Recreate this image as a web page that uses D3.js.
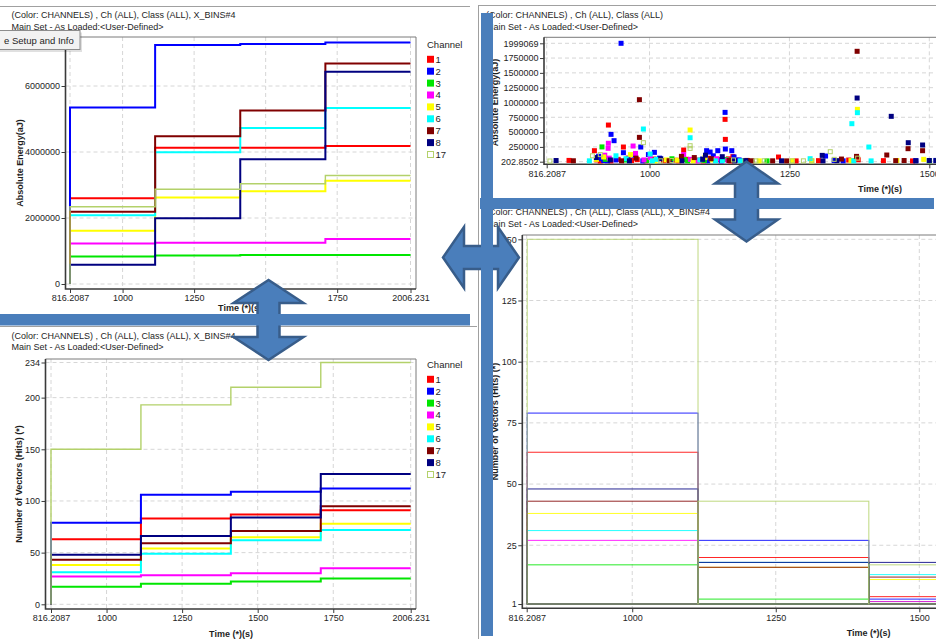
<!DOCTYPE html>
<html>
<head>
<meta charset="utf-8">
<script src="https://cdn.jsdelivr.net/npm/d3@7"></script>
<style>
  html, body { margin: 0; padding: 0; background: #fff; overflow: hidden; }
  svg { display: block; font-family: "Liberation Sans", Arial, sans-serif; }
</style>
</head>
<body>
<svg id="chart" width="936" height="639"></svg>
<script>
// ---------------- data ----------------
const channels = ["1", "2", "3", "4", "5", "6", "7", "8", "17"];
const channelColors = ["#ff0000", "#0000ff", "#00e600", "#ff00ff", "#ffff00", "#00ffff", "#800000", "#000080", "#b3d16a"];

// time bins (X_BINS#4)
const binEdges = [816.2087, 1113.7143, 1411.2198, 1708.7254, 2006.231];

// cumulative absolute energy (aJ) at the end of each bin, per channel
const cumulativeEnergy = [
  [2600000, 4130000, 4130000, 4180000],
  [5350000, 7240000, 7270000, 7320000],
  [830000, 860000, 880000, 880000],
  [1230000, 1250000, 1250000, 1360000],
  [1610000, 2620000, 2810000, 3130000],
  [2080000, 3990000, 4730000, 5330000],
  [2190000, 4480000, 5260000, 6680000],
  [580000, 1990000, 3780000, 6430000],
  [2340000, 2870000, 3040000, 3290000]
];

// hits per bin, per channel
const hitsPerBin = [
  [63, 20, 4, 4],
  [79, 27, 3, 3],
  [17, 3, 2, 3],
  [27, 1, 2, 5],
  [38, 16, 11, 13],
  [31, 18, 13, 10],
  [43, 16, 12, 24],
  [48, 18, 18, 42],
  [150, 43, 17, 24]
];

// individual events: [time (s), absolute energy (aJ)]
const eventsCh1 = [[856.1, 22000], [901.5, 186000], [905.6, 30000], [926.5, 619000], [931, 14000], [944, 40000], [953.3, 248000], [962, 62000], [968, 20000], [978, 35000], [993, 16000], [1008, 45000], [1025, 18000], [1047, 25000], [1061, 197000], [1066, 40000], [1088, 28000], [1109, 58000], [1118, 20000], [1127, 35000], [1135, 715000], [1135.5, 377000], [1141, 48000], [1149, 86000], [1156, 25000], [1174, 22000], [1230.5, 79000], [1262, 14000], [1302, 18000], [1356, 28000], [1373, 32000], [1418, 18000], [1470, 14000], [912, 12000], [1052, 15000], [1096, 14000], [1145, 14000], [1163, 16000]];
const eventsCh2 = [[949.1, 1999069], [931.2, 462000], [936.6, 355000], [953.3, 152000], [909, 92000], [914, 52000], [918, 20000], [940, 30000], [960, 40000], [972, 110000], [984.3, 248000], [998, 120000], [1008.7, 158000], [1018, 60000], [1038, 18000], [1080, 22000], [1095, 45000], [1102, 186000], [1108.3, 163000], [1114, 100000], [1122, 186000], [1135, 833000], [1135.5, 214000], [1147, 186000], [1151, 80000], [1160, 30000], [1314.6, 96000], [1330, 20000], [1346, 15000], [1476, 18000], [1512, 22000], [925, 16000], [988, 14000], [1104, 15000], [1128, 14000], [1167, 15000]];
const eventsCh3 = [[915, 250000], [921, 40000], [958, 28000], [995, 20000], [1040, 50000], [1062, 40000], [1098, 22000], [1137, 38000], [1210, 14000], [1361, 20000], [1500, 16000], [1515, 20000], [1068, 15000]];
const eventsCh4 = [[926.4, 311000], [926, 226000], [920, 110000], [970.6, 265000], [975, 140000], [1001, 70000], [1061, 120000], [928, 60000], [990, 30000], [1073, 40000], [1120, 50000], [1140, 25000], [1085, 14000]];
const eventsCh5 = [[1072.5, 535000], [1371.5, 884000], [905, 40000], [918, 80000], [966, 120000], [1030, 30000], [1050, 25000], [1099, 70000], [1112, 30000], [1170, 15000], [1196, 14000], [1255, 16000], [1290, 15000], [1360, 18000], [1442, 20000], [1490, 40000], [1010, 14000], [1078, 16000]];
const eventsCh6 = [[989, 552000], [1072.5, 405000], [1361.6, 642000], [1371.5, 828000], [1392, 248000], [1287, 51000], [892.5, 15000], [940, 100000], [958, 50000], [1001, 130000], [1012, 40000], [1090, 30000], [1130, 20000], [1162, 15000], [1365, 15000], [1396, 14000], [1005, 15000], [1118, 14000]];
const eventsCh7 = [[1371, 1864000], [981.9, 1047000], [981.9, 411000], [863.9, 16000], [976, 60000], [1057, 90000], [1080, 70000], [1110, 50000], [1175, 18000], [1183, 16000], [1220, 15000], [1245, 14000], [1343, 45000], [1370, 90000], [1424, 113000], [1440, 18000], [1455, 20000], [1462, 220000], [1488, 186000], [950, 15000], [1035, 16000], [1142, 20000]];
const eventsCh8 = [[1371, 1075000], [1432, 766000], [1462.4, 321000], [1488, 282000], [833, 20000], [905, 70000], [930, 30000], [1020, 50000], [1095, 40000], [1100, 110000], [1130, 85000], [1172, 18000], [1236, 15000], [1308.6, 107000], [1310, 15000], [1335, 18000], [1476, 15000], [1500, 20000], [1512, 18000], [964, 15000], [1058, 16000], [1152, 14000]];
const eventsCh17 = [[822, 12000], [898, 100000], [912, 120000], [989, 321000], [1072.5, 270000], [1072.5, 225000], [1323, 169000], [1330, 40000], [1190, 14000], [1205, 16000], [1255, 14000], [1275, 15000], [1290, 14000], [1372, 60000], [1020, 15000], [1040, 20000], [1150, 30000]];
const eventsByChannel = [eventsCh1, eventsCh2, eventsCh3, eventsCh4, eventsCh5, eventsCh6, eventsCh7, eventsCh8, eventsCh17];

// tick values
const energyTicks = [0, 2000000, 4000000, 6000000];
const timeTicksFull = [816.2087, 1000, 1250, 1500, 1750, 2006.231];
const hitsTicks = [0, 50, 100, 150, 200, 234];
const eventEnergyTicks = [202.8502, 250000, 500000, 750000, 1000000, 1250000, 1500000, 1750000, 1999069];
const timeTicksZoomed = [816.2087, 1000, 1250, 1500];
const binHitsTicks = [1, 25, 50, 75, 100, 125, 150];

const headerBinned = ["(Color: CHANNELS) , Ch (ALL), Class (ALL), X_BINS#4", "Main Set - As Loaded:<User-Defined>"];
const headerEvents = ["(Color: CHANNELS) , Ch (ALL), Class (ALL)", "Main Set - As Loaded:<User-Defined>"];

// ---------------- helpers ----------------
const svg = d3.select("#chart");
const TEXT = "#1e1e1e";

function cumulate(arr) { let s = 0; return arr.map(v => (s += v)); }

function frame(g, f, x, y, xTicks, yTicks) {
  // dashed grid
  const grid = g.append("g").attr("stroke", "#d6d6d6").attr("stroke-dasharray", "4,3").attr("stroke-width", 1);
  xTicks.forEach(t => grid.append("line").attr("x1", x(t)).attr("x2", x(t)).attr("y1", f.top).attr("y2", f.bottom));
  yTicks.forEach(t => grid.append("line").attr("y1", y(t)).attr("y2", y(t)).attr("x1", f.left).attr("x2", f.right));
  // frame: light top/right, dark left/bottom axes
  g.append("path").attr("d", `M${f.left},${f.top}H${f.right}V${f.bottom}`)
    .attr("fill", "none").attr("stroke", "#7a7a7a").attr("stroke-width", 1);
  g.append("path").attr("d", `M${f.left},${f.top}V${f.bottom}H${f.right}`)
    .attr("fill", "none").attr("stroke", "#3a3a3a").attr("stroke-width", 1.6);
  // axes
  const ax = g.append("g").attr("transform", `translate(0,${f.bottom})`)
    .call(d3.axisBottom(x).tickValues(xTicks).tickFormat(String).tickSize(4).tickPadding(2));
  const ay = g.append("g").attr("transform", `translate(${f.left},0)`)
    .call(d3.axisLeft(y).tickValues(yTicks).tickFormat(String).tickSize(4).tickPadding(1.5));
  [ax, ay].forEach(a => {
    a.attr("font-family", null).attr("font-size", null);
    a.select(".domain").remove();
    a.selectAll(".tick line").attr("stroke", "#3a3a3a");
    a.selectAll(".tick text").attr("fill", TEXT).style("font-size", "9px");
  });
}

function header(g, lines, x, y0) {
  lines.forEach((t, i) => g.append("text").attr("x", x).attr("y", y0 + i * 11.7)
    .attr("fill", TEXT).style("font-size", "9px").text(t));
}

function axisTitles(g, xTitle, xc, xb, yTitle, yx, yc) {
  g.append("text").attr("x", xc).attr("y", xb).attr("text-anchor", "middle")
    .attr("font-weight", "bold").attr("fill", TEXT).style("font-size", "9px").text(xTitle);
  g.append("text").attr("transform", `translate(${yx},${yc}) rotate(-90)`).attr("text-anchor", "middle")
    .attr("font-weight", "bold").attr("fill", TEXT).style("font-size", "9px").text(yTitle);
}

function legend(g, x, y) {
  g.append("text").attr("x", x).attr("y", y).attr("fill", TEXT).style("font-size", "9.5px").text("Channel");
  channels.forEach((c, i) => {
    const cy = y + 11.8 + i * 11.9;
    const hollow = c === "17";
    g.append("rect").attr("x", hollow ? x + 0.5 : x).attr("y", hollow ? cy - 3 : cy - 3.5)
      .attr("width", hollow ? 6 : 7).attr("height", hollow ? 6 : 7)
      .attr("fill", hollow ? "#fff" : channelColors[i])
      .attr("stroke", hollow ? channelColors[i] : "none").attr("stroke-width", 1);
    g.append("text").attr("x", x + 8.5).attr("y", cy + 3.4).attr("fill", TEXT)
      .style("font-size", "9.5px").text(c);
  });
}

const stepLine = d3.line().curve(d3.curveStepAfter);

function cumulativeSteps(g, rows, x, y) {
  rows.forEach((vals, i) => {
    const pts = [[binEdges[0], 0]].concat(vals.map((v, j) => [binEdges[j], v]), [[binEdges[4], vals[vals.length - 1]]]);
    g.append("path").attr("d", stepLine(pts.map(p => [x(p[0]), y(p[1])])))
      .attr("fill", "none").attr("stroke", channelColors[i])
      .attr("stroke-width", channels[i] === "17" ? 1.4 : 2);
  });
}

// ---------------- panel: cumulative energy (top left) ----------------
{
  const g = svg.append("g");
  const f = { left: 65.5, top: 37, right: 416, bottom: 289 };
  const x = d3.scaleLinear().domain([binEdges[0], binEdges[4]]).range([70, 410.5]);
  const y = d3.scaleLinear().domain([0, 7320000]).range([284, 42.44]);
  header(g, headerBinned, 11.5, 18);
  frame(g, f, x, y, timeTicksFull, energyTicks);
  cumulativeSteps(g, cumulativeEnergy, x, y);
  axisTitles(g, "Time (*)(s)", 240, 311, "Absolute Energy(aJ)", 22.5, 163);
  legend(g, 427, 47.5);
}

// ---------------- panel: cumulative hits (bottom left) ----------------
{
  const g = svg.append("g");
  const f = { left: 45.5, top: 359, right: 416, bottom: 609 };
  const x = d3.scaleLinear().domain([binEdges[0], binEdges[4]]).range([51, 410.7]);
  const y = d3.scaleLinear().domain([0, 234]).range([604.3, 362.5]);
  header(g, headerBinned, 11.5, 338.5);
  frame(g, f, x, y, timeTicksFull, hitsTicks);
  cumulativeSteps(g, hitsPerBin.map(cumulate), x, y);
  axisTitles(g, "Time (*)(s)", 231, 636.5, "Number of Vectors (Hits) (*)", 21.5, 484);
  legend(g, 427, 367.5);
}

// ---------------- panel: events (top right) ----------------
{
  const g = svg.append("g");
  const f = { left: 544, top: 37.3, right: 980, bottom: 164.3 };
  const x = d3.scaleLinear().domain([816.2087, 1500]).range([546.7, 929.3]);
  const y = d3.scaleLinear().domain([202.8502, 1999069]).range([161.7, 43.3]);
  header(g, headerEvents, 486, 18.3);
  frame(g, f, x, y, timeTicksZoomed, eventEnergyTicks);
  eventsByChannel.forEach((evs, i) => {
    const hollow = channels[i] === "17";
    g.append("g").selectAll("rect").data(evs).join("rect")
      .attr("x", d => x(d[0]) - (hollow ? 2 : 2.5))
      .attr("y", d => y(d[1]) - (hollow ? 2 : 2.5))
      .attr("width", hollow ? 4 : 5).attr("height", hollow ? 4 : 5)
      .attr("fill", hollow ? "none" : channelColors[i])
      .attr("stroke", hollow ? channelColors[i] : "none").attr("stroke-width", 1);
  });
  axisTitles(g, "Time (*)(s)", 880, 192, "Absolute Energy(aJ)", 498, 102.5);
}

// ---------------- panel: hits per bin (bottom right) ----------------
{
  const g = svg.append("g");
  const f = { left: 522.3, top: 235, right: 980, bottom: 608.3 };
  const x = d3.scaleLinear().domain([816.2087, 1500]).range([526.7, 919.3]);
  const y = d3.scaleLinear().domain([1, 150]).range([604, 239.3]);
  header(g, headerBinned, 486, 215);
  frame(g, f, x, y, timeTicksZoomed, binHitsTicks);
  hitsPerBin.forEach((vals, i) => {
    g.append("g").selectAll("rect").data(vals.map((v, j) => ({ v, j }))).join("rect")
      .attr("x", d => x(binEdges[d.j]) + 0.5)
      .attr("width", d => x(binEdges[d.j + 1]) - x(binEdges[d.j]))
      .attr("y", d => y(Math.max(d.v, 1)))
      .attr("height", d => y(1) - y(Math.max(d.v, 1)))
      .attr("fill", "none").attr("stroke", channelColors[i]).attr("stroke-width", 1)
      .attr("stroke-opacity", 0.85);
  });
  axisTitles(g, "Time (*)(s)", 868.7, 635.5, "Number of Vectors (Hits) (*)", 498, 421.5);
}

// ---------------- window chrome ----------------
const chrome = svg.append("g");
chrome.append("line").attr("x1", 0).attr("x2", 470).attr("y1", 6.5).attr("y2", 6.5).attr("stroke", "#a0a0a0");
chrome.append("line").attr("x1", 478).attr("x2", 936).attr("y1", 5.5).attr("y2", 5.5).attr("stroke", "#a0a0a0");
chrome.append("line").attr("x1", 478.5).attr("x2", 478.5).attr("y1", 5).attr("y2", 639).attr("stroke", "#a0a0a0");
chrome.append("line").attr("x1", 0).attr("x2", 477).attr("y1", 326.5).attr("y2", 326.5).attr("stroke", "#a0a0a0");

// tooltip box
chrome.append("rect").attr("x", -2).attr("y", 32.5).attr("width", 84).attr("height", 19.5).attr("fill", "#000").attr("opacity", 0.12);
chrome.append("rect").attr("x", -3).attr("y", 30.5).attr("width", 83).attr("height", 19).attr("fill", "#f2f2f2").attr("stroke", "#8c8c8c");
chrome.append("text").attr("x", 4).attr("y", 43.5).attr("fill", TEXT).style("font-size", "9.5px").text("e Setup and Info");

// ---------------- linking arrows and bars ----------------
const overlay = svg.append("g");
function doubleArrow(cx, cy, length, headW, shaftW, headL, vertical) {
  const h = length / 2, hw = headW / 2, sw = shaftW / 2;
  let pts = [[-h, 0], [-h + headL, -hw], [-h + headL, -sw], [h - headL, -sw], [h - headL, -hw], [h, 0],
             [h - headL, hw], [h - headL, sw], [-h + headL, sw], [-h + headL, hw]];
  if (vertical) pts = pts.map(([a, b]) => [b, a]);
  overlay.append("polygon")
    .attr("points", pts.map(([a, b]) => `${cx + a},${cy + b}`).join(" "))
    .attr("fill", "#4a7ebb").attr("stroke", "#385d8a").attr("stroke-width", 2.5)
    .attr("stroke-linejoin", "miter");
}
doubleArrow(481, 257.5, 76, 61, 23, 21, false);
doubleArrow(268.5, 320, 80, 70, 22, 23, true);
doubleArrow(746.5, 201.5, 80, 63, 23, 22, true);

overlay.append("rect").attr("x", 0).attr("y", 314).attr("width", 470).attr("height", 11.5).attr("fill", "#4a7ebb");
overlay.append("rect").attr("x", 480).attr("y", 198).attr("width", 454).attr("height", 11).attr("fill", "#4a7ebb");
overlay.append("rect").attr("x", 481).attr("y", 13).attr("width", 12).attr("height", 623).attr("fill", "#4a7ebb");
</script>
</body>
</html>
